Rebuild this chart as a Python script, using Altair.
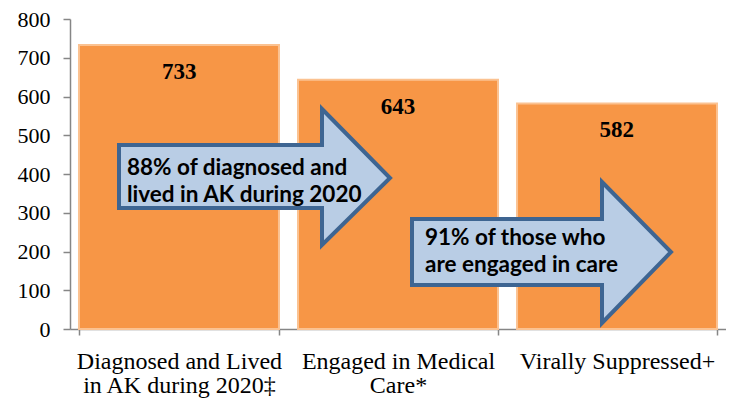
import altair as alt
import pandas as pd

# ---- data ----
categories = ["Diagnosed and Lived\nin AK during 2020‡", "Engaged in Medical\nCare*", "Virally Suppressed+"]
values = [733, 643, 582]

# annotation arrows (plot-pixel frame: x from left, y from top)
arrow_id = ["a1", "a1", "a1", "a1", "a2", "a2", "a2", "a2"]
arrow_x = [49, 252, 252.01, 320, 342, 532, 532.01, 601]
arrow_top = [126, 126, 90, 159, 200, 200, 163, 233]
arrow_bot = [189, 189, 226, 159, 266, 266, 304, 233]

note_text = ["88% of diagnosed and", "lived in AK during 2020", "91% of those who", "are engaged in care"]
note_x = [57, 57, 355, 355]
note_y = [156, 183, 226, 253]

W, H = 656, 310

bars_df = pd.DataFrame({"cat": categories, "val": values})
arrows_df = pd.DataFrame({"id": arrow_id, "x": arrow_x, "yt": arrow_top, "yb": arrow_bot})
notes_df = pd.DataFrame({"t": note_text, "x": note_x, "y": note_y})

xband = alt.Scale(domain=categories, paddingInner=0.087, paddingOuter=0.041, round=False)
yscale = alt.Scale(domain=[0, 800], nice=False)

bars = alt.Chart(bars_df).mark_bar(
    color="#F79646", stroke="#FBC291", strokeWidth=2
).encode(
    x=alt.X("cat:N", scale=xband, sort=categories, title=None,
            axis=alt.Axis(labelAngle=0, labelExpr="split(datum.label, '\\n')",
                          labelFont="Liberation Serif", labelFontSize=24, labelColor="black",
                          labelLineHeight=24, labelPadding=14, labelLimit=400,
                          tickBand="extent", tickSize=6,
                          domainColor="#868686", tickColor="#868686", domainWidth=1.5, tickWidth=1.5)),
    y=alt.Y("val:Q", scale=yscale, title=None,
            axis=alt.Axis(values=list(range(0, 801, 100)), grid=False,
                          labelFont="Liberation Serif", labelFontSize=22, labelColor="black",
                          labelPadding=13, tickSize=7, domainColor="#868686", tickColor="#868686",
                          domainWidth=1.5, tickWidth=1.5)),
)

labels = alt.Chart(bars_df).mark_text(
    font="Liberation Serif", fontSize=23, fontWeight="bold", color="black",
    baseline="middle", dy=27
).encode(
    x=alt.X("cat:N", scale=xband, sort=categories, axis=None),
    y=alt.Y("val:Q", scale=yscale, axis=None),
    text=alt.Text("val:Q"),
)

ax = alt.Scale(domain=[0, W], nice=False, zero=False)
ay = alt.Scale(domain=[0, H], nice=False, zero=False, reverse=True)

arrows = alt.Chart(arrows_df).mark_area(
    fill="#B9CDE5", stroke="#3E6592", strokeWidth=4, opacity=1, strokeJoin="miter"
).encode(
    x=alt.X("x:Q", scale=ax, axis=None),
    y=alt.Y("yt:Q", scale=ay, axis=None),
    y2="yb:Q",
    detail="id:N",
)

notes = alt.Chart(notes_df).mark_text(
    font="Lato", fontWeight="bold", fontSize=22.5, color="black",
    align="left", baseline="alphabetic"
).encode(
    x=alt.X("x:Q", scale=ax, axis=None),
    y=alt.Y("y:Q", scale=ay, axis=None),
    text="t:N",
)

chart = alt.layer(bars, labels, arrows, notes).resolve_scale(
    x="independent", y="independent"
).properties(
    width=W, height=H,
    padding={"left": 62, "top": 11, "right": 0, "bottom": 71},
    autosize=alt.AutoSizeParams(type="none"),
).configure_view(stroke=None)

chart.save("out.html", embed_options={"renderer": "svg", "actions": False})
